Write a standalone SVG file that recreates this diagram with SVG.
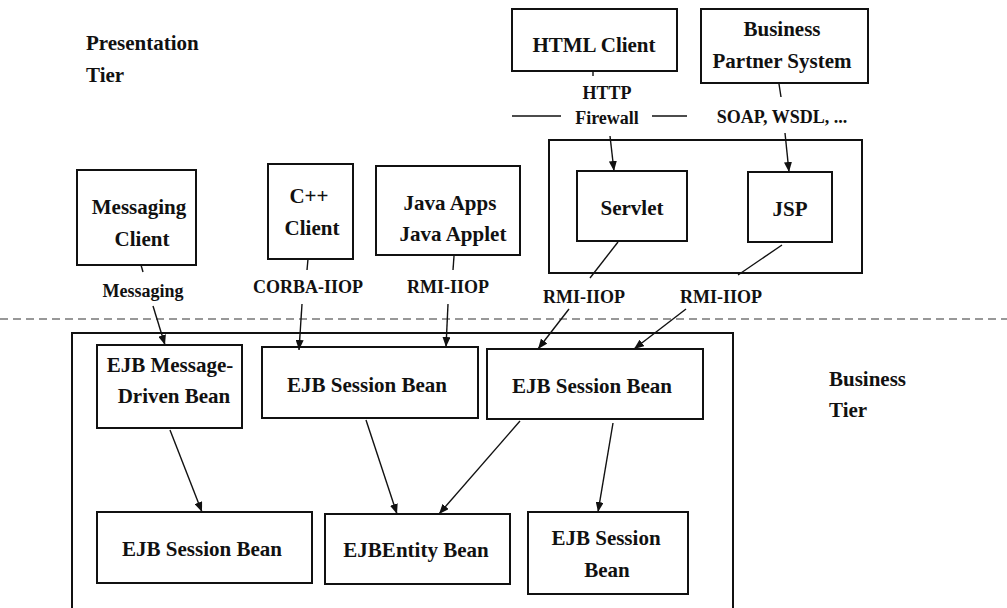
<svg xmlns="http://www.w3.org/2000/svg" width="1007" height="608" viewBox="0 0 1007 608">
<defs>
<marker id="ah" markerWidth="10" markerHeight="8" refX="10" refY="4" orient="auto" markerUnits="userSpaceOnUse">
<path d="M0,0 L10,4 L0,8 Z" fill="#111"/>
</marker>
<style>
.box{fill:#fff;stroke:#111;stroke-width:2}
.frame{fill:none;stroke:#111;stroke-width:2}
text{font-family:'Liberation Serif','Times New Roman','DejaVu Serif',serif;font-weight:bold;fill:#111}
.t{font-size:21px;text-anchor:middle}
.tl{font-size:21px}
.c{font-size:18px;text-anchor:middle}
.ln{stroke:#111;stroke-width:1.4;fill:none}
.ar{stroke:#111;stroke-width:1.4;fill:none;marker-end:url(#ah)}
.dash{stroke:#777;stroke-width:1.6;stroke-dasharray:8,5;fill:none}
</style>
</defs>
<rect width="1007" height="608" fill="#fff"/>

<g id="tier-labels" font-family="Liberation Serif, serif">
<text class="tl" x="86" y="50">Presentation</text>
<text class="tl" x="86" y="82">Tier</text>
<text class="tl" x="829" y="386">Business</text>
<text class="tl" x="829" y="417">Tier</text>
</g>

<line class="dash" x1="0" y1="319" x2="1007" y2="319"/>

<g id="web-container"><rect class="frame" x="549" y="140" width="313" height="133"/></g>
<g id="business-container"><rect class="frame" x="72" y="333" width="661" height="290"/></g>

<g id="html-client"><rect class="box" x="512" y="9" width="165" height="62"/><text class="t" x="594" y="52">HTML Client</text></g>
<g id="business-partner"><rect class="box" x="701" y="9" width="167" height="74"/><text class="t" x="782" y="36">Business</text><text class="t" x="782" y="68">Partner System</text></g>
<g id="servlet"><rect class="box" x="577" y="171" width="110" height="70"/><text class="t" x="632" y="215">Servlet</text></g>
<g id="jsp"><rect class="box" x="748" y="172" width="84" height="70"/><text class="t" x="790" y="216">JSP</text></g>
<g id="messaging-client"><rect class="box" x="77" y="170" width="119" height="95"/><text class="t" x="139" y="214">Messaging</text><text class="t" x="142" y="246">Client</text></g>
<g id="cpp-client"><rect class="box" x="268" y="164" width="85" height="95"/><text class="t" x="309" y="203">C++</text><text class="t" x="312" y="235">Client</text></g>
<g id="java-apps"><rect class="box" x="376" y="166" width="144" height="89"/><text class="t" x="450" y="210">Java Apps</text><text class="t" x="453" y="241">Java Applet</text></g>

<g id="mdb"><rect class="box" x="97" y="345" width="145" height="83"/><text class="t" x="170" y="372">EJB Message-</text><text class="t" x="174" y="403">Driven Bean</text></g>
<g id="session1"><rect class="box" x="262" y="347" width="216" height="71"/><text class="t" x="367" y="392">EJB Session Bean</text></g>
<g id="session2"><rect class="box" x="487" y="349" width="216" height="70"/><text class="t" x="592" y="393">EJB Session Bean</text></g>
<g id="session3"><rect class="box" x="97" y="512" width="215" height="71"/><text class="t" x="202" y="556">EJB Session Bean</text></g>
<g id="entity"><rect class="box" x="325" y="514" width="185" height="70"/><text class="t" x="416" y="557">EJBEntity Bean</text></g>
<g id="session4"><rect class="box" x="528" y="512" width="160" height="82"/><text class="t" x="606" y="545">EJB Session</text><text class="t" x="607" y="577">Bean</text></g>

<g id="connectors">
<line class="ln" x1="593" y1="71" x2="593" y2="76"/>
<text class="c" x="607" y="99">HTTP</text>
<line class="ln" x1="512" y1="116" x2="561" y2="116"/>
<text class="c" x="607" y="124">Firewall</text>
<line class="ln" x1="652" y1="116" x2="687" y2="116"/>
<line class="ar" x1="610" y1="136" x2="614" y2="171"/>

<line class="ln" x1="779" y1="84" x2="781" y2="97"/>
<text class="c" x="782" y="123">SOAP, WSDL, ...</text>
<line class="ar" x1="785" y1="133" x2="789" y2="172"/>

<line class="ln" x1="618" y1="242" x2="590" y2="278"/>
<text class="c" x="584" y="303">RMI-IIOP</text>
<line class="ln" x1="782" y1="245" x2="738" y2="275"/>
<text class="c" x="721" y="303">RMI-IIOP</text>
<line class="ar" x1="569" y1="309" x2="538" y2="349"/>
<line class="ar" x1="686" y1="309" x2="634" y2="349"/>

<line class="ln" x1="141" y1="265" x2="143" y2="272"/>
<text class="c" x="143" y="297">Messaging</text>
<line class="ar" x1="153" y1="306" x2="165" y2="345"/>

<line class="ln" x1="308" y1="259" x2="307" y2="270"/>
<text class="c" x="308" y="293">CORBA-IIOP</text>
<line class="ar" x1="302" y1="304" x2="299" y2="350"/>

<line class="ln" x1="454" y1="256" x2="453" y2="270"/>
<text class="c" x="448" y="293">RMI-IIOP</text>
<line class="ar" x1="448" y1="304" x2="446" y2="347"/>

<line class="ar" x1="170" y1="430" x2="202" y2="512"/>
<line class="ar" x1="366" y1="420" x2="397" y2="514"/>
<line class="ar" x1="520" y1="421" x2="439" y2="514"/>
<line class="ar" x1="613" y1="423" x2="598" y2="512"/>
</g>
</svg>
